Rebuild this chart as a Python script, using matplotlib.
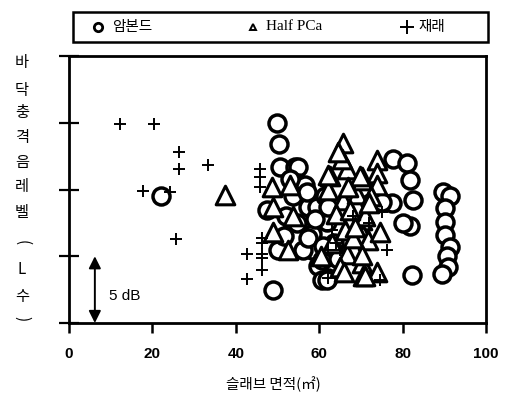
import matplotlib
matplotlib.use("Agg")
import matplotlib.pyplot as plt
from matplotlib.patches import Rectangle
from matplotlib.lines import Line2D

plt.rcParams['font.family'] = ['Noto Sans CJK KR', 'DejaVu Sans']

# ---- data (x: slab area m2, y: relative level in dB) ----
amb_x = [22.1, 49.8, 50.4, 50.6, 54.2, 55.0, 55.0, 53.7, 54.6, 50.1,
         47.4, 48.9, 56.6, 57.3, 58.2, 58.2, 56.2, 57.3, 59.7, 60.6,
         60.6, 62.1, 61.8, 59.4, 61.4, 61.8, 62.1, 52.0, 57.0, 63.5,
         77.8, 81.0, 81.8, 82.6, 77.4, 72.2, 81.8, 80.2, 82.2, 75.0,
         89.8, 91.4, 90.2, 90.2, 90.2, 91.4, 90.6, 90.9, 89.4,
         51.5, 53.0, 59.0, 64.5, 61.0]
amb_y = [9.5, 15.0, 13.4, 11.7, 11.7, 11.7, 10.5, 9.5, 7.5, 5.5,
         8.5, 2.5, 10.3, 8.7, 6.7, 5.5, 5.5, 6.4, 4.3, 4.7,
         3.2, 3.4, 3.2, 8.7, 9.5, 7.6, 8.7, 8.0, 9.8, 6.0,
         12.3, 12.0, 10.7, 9.2, 9.0, 9.0, 7.3, 7.5, 3.6, 9.1,
         9.8, 9.5, 8.6, 7.6, 6.6, 5.7, 5.0, 4.2, 3.7,
         6.5, 10.8, 7.8, 4.8, 5.8]

pca_x = [37.4, 48.6, 53.0, 65.8, 62.6, 66.6, 70.2, 49.0, 49.0, 53.8,
         52.5, 65.8, 66.2, 66.6, 70.2, 70.5, 62.1, 69.0, 70.2, 65.4,
         62.2, 70.2, 73.8, 73.8, 73.8, 69.8, 71.0, 70.6, 71.8, 70.2,
         73.8, 71.0, 64.0, 67.5, 63.0, 68.0, 72.5, 65.0, 60.5, 67.0,
         64.5, 68.5, 74.5, 72.0, 66.0]
pca_y = [9.6, 10.2, 10.3, 13.5, 11.0, 11.5, 10.9, 8.7, 6.8, 8.0,
         5.5, 9.2, 7.0, 5.2, 4.5, 3.5, 10.0, 9.7, 7.7, 12.3,
         11.1, 10.7, 12.2, 11.2, 10.3, 11.0, 8.0, 6.6, 6.2, 5.1,
         3.8, 3.5, 8.2, 8.5, 6.0, 6.4, 9.5, 4.2, 5.0, 10.2,
         12.8, 7.2, 6.8, 9.0, 3.8]

con_x = [12.2, 20.5, 26.4, 26.4, 33.3, 17.8, 24.2, 25.7,
         45.8, 45.8, 45.8, 46.4, 46.2, 42.6, 46.2, 46.2, 46.4, 42.6,
         62.1, 75.0, 76.2, 74.6, 63.0, 64.0, 65.0, 62.0, 72.0, 68.0]
con_y = [14.9, 14.9, 12.8, 11.5, 11.8, 9.9, 9.8, 6.3,
         11.5, 10.9, 10.2, 6.4, 6.0, 5.2, 5.2, 4.9, 4.0, 3.3,
         3.4, 8.3, 5.5, 3.2, 7.0, 6.0, 5.5, 5.5, 7.5, 8.0]

legend_labels = ['암본드', 'Half PCa', '재래']
xticks = [0, 20, 40, 60, 80, 100]
yticks = [0, 5, 10, 15, 20]
ylabel_chars = ['바', '닥', '충', '격', '음', '레', '벨', '(', 'L', '수', ')']
xlabel = '슬래브 면적(㎡)'

fig = plt.figure(figsize=(5.11, 4.04), dpi=100)
ax = fig.add_axes([69/511, 1-323/404, (486-69)/511, (323-56)/404])

ax.scatter(amb_x, amb_y, s=150, marker='o', facecolors='white',
           edgecolors='black', linewidths=2.5, zorder=3)
ax.scatter(pca_x, pca_y, s=180, marker='^', facecolors='white',
           edgecolors='black', linewidths=2.2, zorder=4)
ax.scatter(con_x, con_y, s=80, marker='+', color='black',
           linewidths=1.4, zorder=5)

ax.set_xlim(0, 100)
ax.set_ylim(0, 20)
ax.set_xticks(xticks)
ax.set_xticklabels([str(t) for t in xticks], fontfamily='Liberation Sans',
                   fontweight='bold', fontsize=11)
ax.set_yticks(yticks)
ax.set_yticklabels([])
ax.tick_params(axis='x', direction='out', length=7, width=1.8, pad=10)
ax.tick_params(axis='y', direction='inout', length=14, width=1.6)
for sp in ax.spines.values():
    sp.set_linewidth(2.0)

# 5 dB scale arrow
ax.annotate('', xy=(6.2, 5.0), xytext=(6.2, 0.0),
            arrowprops=dict(arrowstyle='<|-|>', color='black', lw=1.4,
                            mutation_scale=18, shrinkA=0, shrinkB=0))
ax.text(9.5, 2.0, '5 dB', fontfamily='Liberation Sans', fontsize=11,
        va='center', ha='left')

# y label: stacked characters
ys = [63, 90, 113, 137, 162, 187, 212, 243, 270, 296, 319]
for ch, yp in zip(ylabel_chars, ys):
    rot = 0
    if ch in '()':
        rot = -90
    fig.text(22/511, 1-yp/404, ch, ha='center', va='center', fontsize=11,
             rotation=rot)

fig.text(273/511, 1-384/404, xlabel, ha='center', va='center', fontsize=10.5)

# legend box
fig.add_artist(Rectangle((73/511, 1-42/404), (488-73)/511, 30/404,
                         transform=fig.transFigure, fill=False,
                         edgecolor='black', linewidth=1.8))
ly = 1-27/404
fig.add_artist(Line2D([98/511], [ly], marker='o', markersize=6,
                      markerfacecolor='white', markeredgecolor='black',
                      markeredgewidth=2.0, transform=fig.transFigure))
fig.text(112/511, ly, legend_labels[0], ha='left', va='center', fontsize=10.5)
fig.add_artist(Line2D([253/511], [ly], marker='^', markersize=5,
                      markerfacecolor='white', markeredgecolor='black',
                      markeredgewidth=1.4, transform=fig.transFigure))
fig.text(266/511, ly, legend_labels[1], ha='left', va='center', fontsize=11,
         fontfamily='Liberation Serif')
fig.add_artist(Line2D([407/511], [ly], marker='+', markersize=10,
                      color='black', markeredgewidth=1.4,
                      transform=fig.transFigure))
fig.text(418/511, ly, legend_labels[2], ha='left', va='center', fontsize=10.5)

fig.savefig('out.png', dpi=100)
